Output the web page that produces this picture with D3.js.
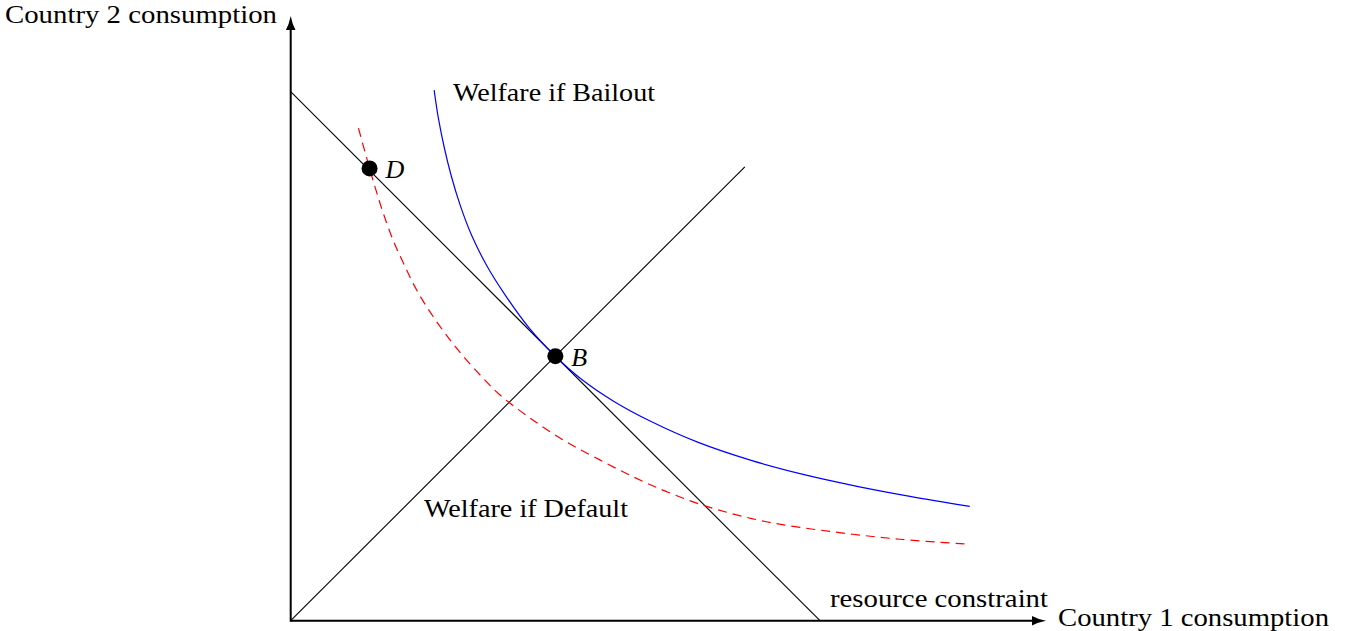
<!DOCTYPE html>
<html>
<head>
<meta charset="utf-8">
<script src="https://cdn.jsdelivr.net/npm/d3@7"></script>
<style>
  html, body { margin: 0; padding: 0; background: #fff; }
  svg { display: block; }
  text { font-family: "Liberation Serif", "Times New Roman", serif; fill: #000; }
</style>
</head>
<body>
<svg id="chart" width="1357" height="631"></svg>
<script>
// ---- data (in consumption units) ----
const resourceConstraint = [[0, 10], [10, 0]];
const symmetryLine = [[0, 0], [8.58, 8.58]];
const bailoutCurve = [
  [2.71, 10.03], [2.79, 9.50], [2.90, 8.95], [3.03, 8.42], [3.20, 7.86],
  [3.42, 7.28], [3.70, 6.72], [4.05, 6.16], [4.50, 5.54], [5.00, 5.00],
  [5.50, 4.56], [6.10, 4.15], [6.80, 3.77], [7.70, 3.37], [8.70, 3.03],
  [9.70, 2.76], [10.70, 2.54], [11.70, 2.35], [12.83, 2.16]
];
const defaultCurve = [
  [1.28, 9.31], [1.49, 8.55], [1.62, 8.11], [1.75, 7.70], [1.94, 7.18],
  [2.13, 6.76], [2.38, 6.25], [2.69, 5.75], [3.01, 5.31], [3.32, 4.93],
  [3.64, 4.58], [3.95, 4.27], [4.58, 3.79], [5.21, 3.38], [5.84, 3.04],
  [6.47, 2.72], [7.10, 2.44], [7.86, 2.16], [8.99, 1.87], [10.25, 1.68],
  [11.51, 1.54], [12.74, 1.45]
];
const pointNames = ["D", "B"];
const pointX = [1.49, 5.0];
const pointY = [8.55, 5.0];
const axisLabels = ["Country 1 consumption", "Country 2 consumption"];
const curveLabels = ["Welfare if Bailout", "Welfare if Default", "resource constraint"];
const axisMax = [14.27, 11.43];

// ---- scales ----
const svg = d3.select("#chart");
const x = d3.scaleLinear().domain([0, 10]).range([290.7, 820]);
const y = d3.scaleLinear().domain([0, 10]).range([620.7, 91.7]);

const line = d3.line().x(d => x(d[0])).y(d => y(d[1]));
const smooth = d3.line().x(d => x(d[0])).y(d => y(d[1])).curve(d3.curveCatmullRom.alpha(0.5));

// resource constraint & 45 degree line
svg.append("path").attr("d", line(resourceConstraint))
  .attr("fill", "none").attr("stroke", "#000").attr("stroke-width", 1.1);
svg.append("path").attr("d", line(symmetryLine))
  .attr("fill", "none").attr("stroke", "#000").attr("stroke-width", 1.1);

// welfare curves
svg.append("path").attr("d", smooth(bailoutCurve))
  .attr("fill", "none").attr("stroke", "#0000ff").attr("stroke-width", 1.2);
svg.append("path").attr("d", smooth(defaultCurve))
  .attr("fill", "none").attr("stroke", "#ff0000").attr("stroke-width", 1.2)
  .attr("stroke-dasharray", "9,6");

// axes
const x0 = x(0), y0 = y(0);
const xEnd = x(axisMax[0]), yEnd = y(axisMax[1]);
const headLen = 14, headW = 4.8;
svg.append("line").attr("x1", x0).attr("y1", y0).attr("x2", xEnd - headLen + 2).attr("y2", y0)
  .attr("stroke", "#000").attr("stroke-width", 2);
svg.append("line").attr("x1", x0).attr("y1", y0 + 1).attr("x2", x0).attr("y2", yEnd + headLen - 2)
  .attr("stroke", "#000").attr("stroke-width", 2);
// arrowheads (latex style)
svg.append("path")
  .attr("d", `M${xEnd},${y0} Q${xEnd - headLen * 0.6},${y0 - headW * 0.35} ${xEnd - headLen},${y0 - headW} L${xEnd - headLen},${y0 + headW} Q${xEnd - headLen * 0.6},${y0 + headW * 0.35} ${xEnd},${y0} Z`)
  .attr("fill", "#000");
svg.append("path")
  .attr("d", `M${x0},${yEnd} Q${x0 - headW * 0.35},${yEnd + headLen * 0.6} ${x0 - headW},${yEnd + headLen} L${x0 + headW},${yEnd + headLen} Q${x0 + headW * 0.35},${yEnd + headLen * 0.6} ${x0},${yEnd} Z`)
  .attr("fill", "#000");

// points
svg.selectAll("circle.pt").data(pointNames).enter().append("circle")
  .attr("class", "pt")
  .attr("cx", (d, i) => x(pointX[i]))
  .attr("cy", (d, i) => y(pointY[i]))
  .attr("r", 8).attr("fill", "#000");
svg.selectAll("text.pt").data(pointNames).enter().append("text")
  .attr("class", "pt")
  .attr("x", (d, i) => x(pointX[i]) + 16)
  .attr("y", (d, i) => y(pointY[i]) + 9.5)
  .attr("font-size", 26).attr("font-style", "italic")
  .text(d => d);

// labels
function label(txt, px, py, len) {
  svg.append("text").attr("x", px).attr("y", py)
    .attr("font-size", 26)
    .attr("textLength", len).attr("lengthAdjust", "spacingAndGlyphs")
    .text(txt);
}
label(axisLabels[1], 5, 23, 272);
label(axisLabels[0], 1058, 626, 271);
label(curveLabels[0], 453, 101, 202);
label(curveLabels[1], 424, 516.5, 204);
label(curveLabels[2], 830, 606.5, 218);
</script>
</body>
</html>
